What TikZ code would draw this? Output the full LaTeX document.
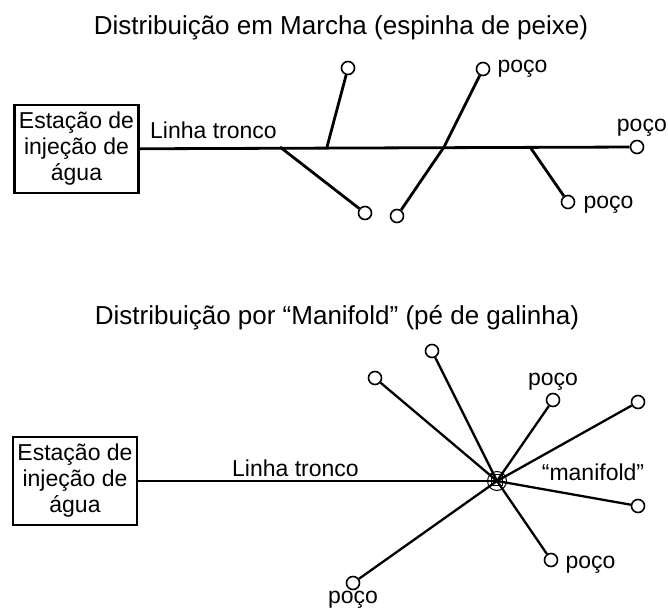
\documentclass[tikz,border=0pt]{standalone}
\usepackage{fontspec}
\setmainfont{Liberation Sans}
\usetikzlibrary{positioning}

\tikzset{
  poco/.style={circle, draw, line width=1.6pt, minimum size=13pt, inner sep=0pt, fill=white},
  estacao/.style={draw, line width=2.6pt, minimum width=124pt, minimum height=88pt, align=center, inner sep=0pt, font=\fontsize{23}{26}\selectfont},
  rotulo/.style={inner sep=1pt, font=\fontsize{23}{26}\selectfont},
  titulo/.style={inner sep=0pt, font=\fontsize{26}{28}\selectfont},
  ramo/.style={line width=2.8pt},
  raio/.style={line width=2.3pt}
}

\begin{document}
\begin{tikzpicture}[x=1pt, y=-1pt]
    \useasboundingbox (0, 0) rectangle (668, 612);

    \node[titulo] (T1) at (341, 28) {Distribuição em Marcha (espinha de peixe)};
    \node[estacao] (E1) at (76.5, 149) {Estação de\\injeção de\\água};
    \node[poco] (P5) at (637, 147) {};
    \node[poco] (P1) at (348, 68) {};
    \node[poco] (P2) at (365, 213) {};
    \node[poco] (P3a) at (397, 216) {};
    \node[poco] (P3b) at (483, 69) {};
    \node[poco] (P4) at (568, 202) {};
    \coordinate (J1) at (327, 147);
    \coordinate (J2) at (280, 147);
    \coordinate (J3) at (444, 147);
    \coordinate (J4) at (530, 147);

    \draw [ramo] (E1) -- (P5);
    \draw [ramo] (J1) -- (P1);
    \draw [ramo] (J2) -- (P2);
    \draw [ramo] (P3a) -- (J3) -- (P3b);
    \draw [ramo] (J4) -- (P4);

    \node[rotulo, anchor=base west] (L1) at (149, 139) {Linha tronco};
    \node[rotulo, right=6pt of P3b] (R1) {poço};
    \node[rotulo, anchor=east, inner sep=0pt] (R2) at (667, 128) {poço};
    \node[rotulo, right=7pt of P4, yshift=-3pt] (R3) {poço};

    \node[titulo] (T2) at (337, 318) {Distribuição por “Manifold” (pé de galinha)};
    \node[estacao] (E2) at (75, 481) {Estação de\\injeção de\\água};
    \node[circle, draw, line width=1pt, minimum size=19pt, inner sep=0pt] (M) at (497, 481) {};
    \node[draw, line width=1pt, minimum size=11pt, inner sep=0pt] (Mq) at (497, 480) {};
    \node[poco] (Q1) at (432, 351) {};
    \node[poco] (Q2) at (375, 378) {};
    \node[poco] (Q3) at (553, 400) {};
    \node[poco] (Q4) at (638, 402) {};
    \node[poco] (Q5) at (638, 506) {};
    \node[poco] (Q6) at (551, 560) {};
    \node[poco] (Q7) at (353, 583) {};

    \draw [line width=1.4pt] (E2) -- (M.center);
    \foreach \q in {Q1, Q2, Q3, Q4, Q5, Q6, Q7}
        \draw [raio] (\q) -- (M.center);

    \node[rotulo, anchor=base west] (L2) at (231, 476) {Linha tronco};
    \node[rotulo, above=1pt of Q3] (S1) {poço};
    \node[rotulo] (S2) at (593, 472) {“manifold”};
    \node[rotulo, right=6pt of Q6, yshift=-5pt] (S3) {poço};
    \node[rotulo, below=0pt of Q7] (S4) {poço};
\end{tikzpicture}
\end{document}
